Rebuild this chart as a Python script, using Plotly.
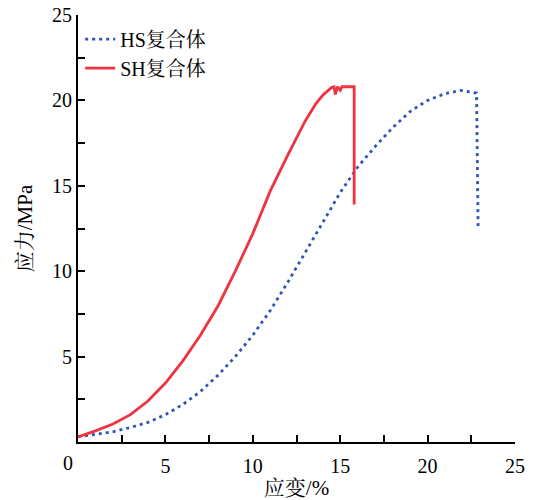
import plotly.graph_objects as go

# HS composite (blue dotted)
strain_hs = [0.0, 1.0, 2.0, 3.0, 4.0, 5.0, 6.0, 7.0, 8.0, 9.0, 10.0, 11.0, 12.0, 13.0,
             14.0, 15.0, 16.0, 17.0, 18.0, 19.0, 20.0, 21.0, 21.9, 22.8, 22.89]
stress_hs = [0.3, 0.45, 0.6, 0.85, 1.15, 1.6, 2.2, 2.95, 3.9, 5.0, 6.25, 7.7, 9.35, 11.1,
             12.85, 14.6, 16.1, 17.3, 18.4, 19.35, 20.0, 20.4, 20.58, 20.43, 12.45]

# SH composite (red solid)
strain_sh = [0.0, 1.0, 2.0, 3.0, 4.0, 5.0, 6.0, 7.0, 8.0, 9.0, 10.0, 11.0, 12.0, 13.0,
             13.6, 14.0, 14.5, 14.65, 14.72, 14.85, 15.0, 15.1, 15.8, 15.8]
stress_sh = [0.3, 0.65, 1.05, 1.6, 2.4, 3.45, 4.75, 6.25, 7.95, 10.0, 12.2, 14.7, 16.8, 18.8,
             19.8, 20.3, 20.75, 20.8, 20.35, 20.8, 20.6, 20.8, 20.8, 13.9]

x_ticks = [5, 10, 15, 20, 25]
y_ticks = [5, 10, 15, 20, 25]
origin_label = "0"

font_fam = "Liberation Serif, Times New Roman, Noto Serif CJK SC, Noto Sans CJK SC, serif"

fig = go.Figure()
fig.add_trace(go.Scatter(x=strain_hs, y=stress_hs, mode="lines", name="HS复合体",
                         line=dict(color="#2f55b8", width=2.8, dash="3px,4px")))
fig.add_trace(go.Scatter(x=strain_sh, y=stress_sh, mode="lines", name="SH复合体",
                         line=dict(color="#ef3340", width=2.8)))

tick_font = dict(family=font_fam, size=20, color="black")
title_font = dict(family=font_fam, size=21, color="black")
axis_common = dict(showline=True, linecolor="black", linewidth=2, showgrid=False,
                   zeroline=False, ticks="inside", ticklen=7, tickwidth=1.8, tickcolor="black",
                   tickfont=tick_font, mirror=False, automargin=False,
                   minor=dict(ticks="inside", ticklen=7, tickwidth=1.8, tickcolor="black",
                              dtick=2.5, tick0=0))

fig.update_xaxes(range=[0, 25], tickvals=x_ticks, ticklabelstandoff=5,
                 title=dict(text="应变/%", font=title_font, standoff=14), **axis_common)
fig.update_yaxes(range=[0, 25], tickvals=y_ticks, ticklabelstandoff=0,
                 title=dict(text="应力/MPa", font=title_font, standoff=14), **axis_common)

fig.add_annotation(x=0, y=0, xref="x", yref="y", text=origin_label, showarrow=False,
                   xanchor="center", yanchor="middle", xshift=-10, yshift=-21,
                   font=tick_font)

fig.update_layout(
    width=538, height=500,
    margin=dict(l=78, r=23, t=15, b=58, autoexpand=False),
    plot_bgcolor="white", paper_bgcolor="white",
    showlegend=True,
    legend=dict(x=0.005, y=0.989, xanchor="left", yanchor="top", bgcolor="rgba(0,0,0,0)",
                font=dict(family=font_fam, size=20, color="black"), itemwidth=30,
                tracegroupgap=0),
)

fig.write_html("out.html")
